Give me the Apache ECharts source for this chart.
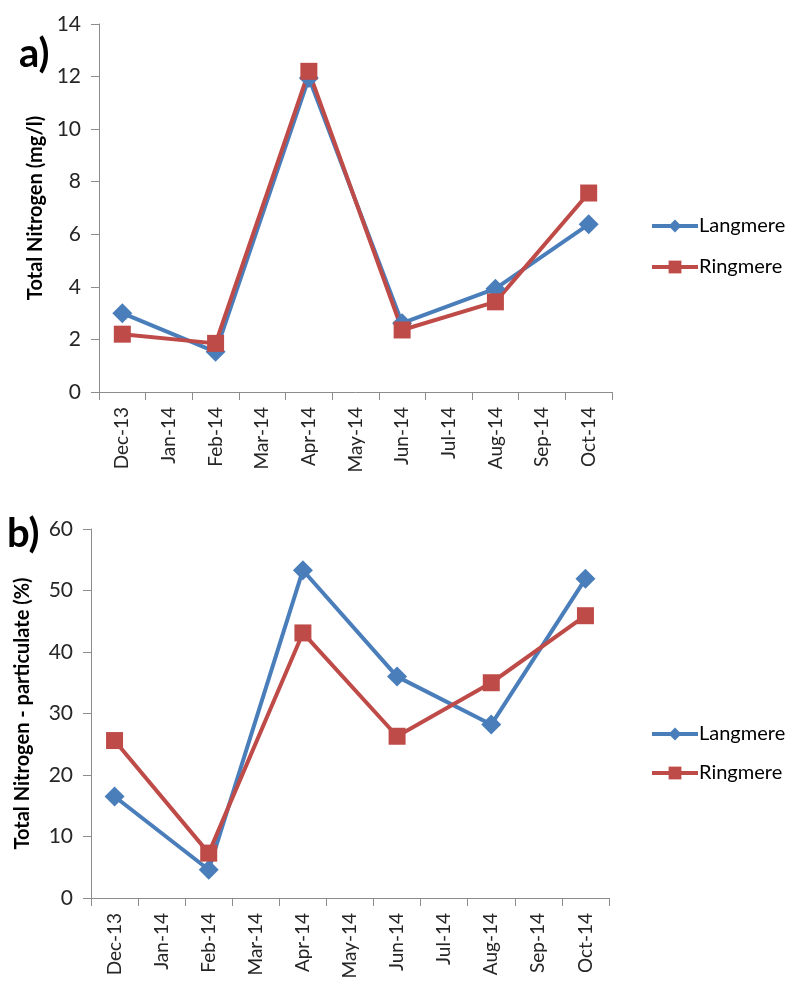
<!DOCTYPE html>
<html>
<head>
<meta charset="utf-8">
<script src="https://cdn.jsdelivr.net/npm/echarts@6/dist/echarts.min.js"></script>
<style>
html,body{margin:0;padding:0;background:#fff;}
#chart{width:788px;height:983px;}
</style>
</head>
<body>
<div id="chart"></div>
<script>
// Categories (months)
const months = ['Dec-13','Jan-14','Feb-14','Mar-14','Apr-14','May-14','Jun-14','Jul-14','Aug-14','Sep-14','Oct-14'];
// Panel a: Total Nitrogen (mg/l) — null = not sampled
const langmereTN = [3.0, null, 1.53, null, 11.95, null, 2.62, null, 3.93, null, 6.38];
const ringmereTN = [2.2, null, 1.85, null, 12.2, null, 2.36, null, 3.43, null, 7.57];
// Panel b: Total Nitrogen - particulate (%)
const langmerePart = [16.5, null, 4.6, null, 53.3, null, 36.0, null, 28.2, null, 51.9];
const ringmerePart = [25.6, null, 7.3, null, 43.1, null, 26.3, null, 35.0, null, 45.9];
// Axis ticks
const yTicksA = {min: 0, max: 14, interval: 2};
const yTicksB = {min: 0, max: 60, interval: 10};
const seriesNames = ['Langmere', 'Ringmere'];

const BLUE = '#4a7ebb', RED = '#be4b48';
const FONT = 'Lato';
const TXT = '#262626';
const AX = '#8c8c8c';

function xAxisCfg(gi){
  return {
    type:'category', gridIndex:gi, data:months, boundaryGap:true,
    axisLine:{lineStyle:{color:AX, width:1}},
    axisTick:{show:true, length:8, lineStyle:{color:AX}, alignWithLabel:false},
    axisLabel:{rotate:90, margin:15, color:TXT, fontFamily:FONT, fontSize:19, interval:0}
  };
}
function yAxisCfg(gi, t, name, gap){
  return {
    type:'value', gridIndex:gi, min:t.min, max:t.max, interval:t.interval,
    name:name, nameLocation:'middle', nameRotate:90, nameGap:gap,
    nameTextStyle:{fontFamily:FONT, fontWeight:'bold', fontSize:20, color:'#000'},
    axisLine:{show:true, lineStyle:{color:AX, width:1}},
    axisTick:{show:true, length:8, lineStyle:{color:AX}},
    splitLine:{show:false},
    axisLabel:{margin:18, color:TXT, fontFamily:FONT, fontSize:21}
  };
}
function lineSeries(name, data, gi, color, symbol, size){
  return {
    name:name, type:'line', xAxisIndex:gi, yAxisIndex:gi, data:data,
    connectNulls:true, symbol:symbol, symbolSize:size,
    lineStyle:{color:color, width:4}, itemStyle:{color:color},
    emphasis:{disabled:true}, animation:false
  };
}

const chart = echarts.init(document.getElementById('chart'), null, {renderer:'canvas'});
chart.setOption({
  animation:false,
  backgroundColor:'#fff',
  grid:[
    {left:99, right:176, top:24, bottom:591, containLabel:false},
    {left:91, right:179, top:529, bottom:85, containLabel:false}
  ],
  xAxis:[xAxisCfg(0), xAxisCfg(1)],
  yAxis:[
    yAxisCfg(0, yTicksA, 'Total Nitrogen (mg/l)', 51),
    yAxisCfg(1, yTicksB, 'Total Nitrogen - particulate (%)', 58)
  ],
  legend:[
    {data:seriesNames, orient:'vertical', left:645, top:211, itemWidth:46, itemHeight:16, itemGap:21,
     lineStyle:{width:4},
     textStyle:{fontFamily:FONT, fontSize:20, color:'#000', padding:[0,0,0,-4]}, selectedMode:false},
    {data:seriesNames, orient:'vertical', left:645, top:719, itemWidth:46, itemHeight:16, itemGap:19,
     lineStyle:{width:4},
     textStyle:{fontFamily:FONT, fontSize:20, color:'#000', padding:[0,0,0,-4]}, selectedMode:false}
  ],
  graphic:[
    {type:'text', left:19, top:34, style:{text:'a)', font:'bold 40px Lato', fill:'#000'}},
    {type:'text', left:7, top:514, style:{text:'b)', font:'bold 40px Lato', fill:'#000'}}
  ],
  series:[
    lineSeries('Langmere', langmereTN, 0, BLUE, 'diamond', 20),
    lineSeries('Ringmere', ringmereTN, 0, RED, 'rect', 17),
    lineSeries('Langmere', langmerePart, 1, BLUE, 'diamond', 20),
    lineSeries('Ringmere', ringmerePart, 1, RED, 'rect', 17)
  ]
});
</script>
</body>
</html>
